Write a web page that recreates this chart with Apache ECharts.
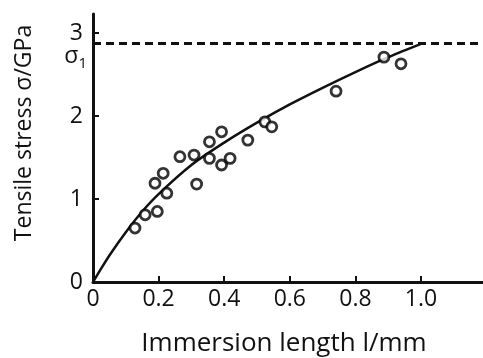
<!DOCTYPE html>
<html>
<head>
<meta charset="utf-8">
<script src="https://cdn.jsdelivr.net/npm/echarts@6/dist/echarts.min.js"></script>
<style>
  html, body { margin: 0; padding: 0; background: #fff; }
  #chart { width: 483px; height: 358px; }
</style>
</head>
<body>
<div id="chart"></div>
<script>
// Measured tensile stress against immersion length
const lengthMm = [0.128, 0.159, 0.196, 0.189, 0.214, 0.225, 0.265, 0.308, 0.316, 0.355,
                  0.355, 0.392, 0.392, 0.418, 0.472, 0.524, 0.545, 0.741, 0.887, 0.939];
const stressGPa = [0.65, 0.81, 0.85, 1.19, 1.31, 1.07, 1.51, 1.53, 1.18, 1.69,
                   1.49, 1.81, 1.41, 1.49, 1.71, 1.93, 1.87, 2.30, 2.71, 2.63];

// Trend curve through the data, ending at the limiting stress
const curveX = [0, 0.02, 0.05, 0.1, 0.15, 0.2, 0.3, 0.4, 0.5, 0.6, 0.7, 0.8, 0.9, 1.006];
const curveY = [0, 0.13, 0.32, 0.6, 0.85, 1.06, 1.41, 1.68, 1.92, 2.14, 2.34, 2.53, 2.71, 2.88];

// Limiting stress sigma_1
const sigma1 = 2.88;

const xTicks = [0, 0.2, 0.4, 0.6, 0.8, 1.0];
const yTicks = [0, 1, 2, 3];

const ink = '#111';
const font = 'Open Sans';

const chart = echarts.init(document.getElementById('chart'), null, { renderer: 'canvas' });

chart.setOption({
  animation: false,
  backgroundColor: '#fff',
  grid: { left: 93, right: 0, top: 14, bottom: 76, containLabel: false, outerBoundsMode: 'none' },
  xAxis: {
    type: 'value',
    min: 0,
    max: 1.189,
    name: 'Immersion length l/mm',
    nameLocation: 'middle',
    nameGap: 49,
    nameTextStyle: { color: ink, fontFamily: font, fontSize: 26, padding: [0, 8, 0, 0] },
    axisLine: { lineStyle: { color: ink, width: 3 } },
    axisTick: { inside: true, length: 6, lineStyle: { color: ink, width: 2 }, customValues: xTicks },
    axisLabel: {
      color: ink, fontFamily: font, fontSize: 23, margin: 6,
      customValues: xTicks,
      formatter: v => (v === 0 ? '0' : v.toFixed(1))
    },
    splitLine: { show: false }
  },
  yAxis: {
    type: 'value',
    min: 0,
    max: 3.23,
    name: 'Tensile stress σ/GPa',
    nameLocation: 'middle',
    nameGap: 57,
    nameRotate: 90,
    nameTextStyle: { color: ink, fontFamily: font, fontSize: 23, padding: [0, 0, 0, 30] },
    axisLine: { lineStyle: { color: ink, width: 3 } },
    axisTick: { inside: true, length: 6, lineStyle: { color: ink, width: 2 }, customValues: yTicks },
    axisLabel: { color: ink, fontFamily: font, fontSize: 23, margin: 10, customValues: yTicks },
    splitLine: { show: false }
  },
  series: [
    {
      type: 'line',
      data: curveX.map((x, i) => [x, curveY[i]]),
      smooth: 0.3,
      showSymbol: false,
      lineStyle: { color: ink, width: 2.5 },
      z: 2,
      markLine: {
        silent: true,
        symbol: 'none',
        lineStyle: { color: ink, width: 3, type: [8, 5] },
        label: {
          show: true,
          position: 'start',
          distance: 6,
          offset: [0, 13],
          formatter: '{s|σ}{n|1}',
          rich: {
            s: { fontFamily: font, fontSize: 23, color: ink },
            n: { fontFamily: font, fontSize: 15, color: ink, padding: [16, 0, 0, 0] }
          }
        },
        data: [{ yAxis: sigma1 }]
      }
    },
    {
      type: 'scatter',
      data: lengthMm.map((x, i) => [x, stressGPa[i]]),
      symbol: 'circle',
      symbolSize: 10,
      itemStyle: { color: '#fff', borderColor: '#000', borderWidth: 2.8 },
      z: 3
    }
  ]
});
</script>
</body>
</html>
